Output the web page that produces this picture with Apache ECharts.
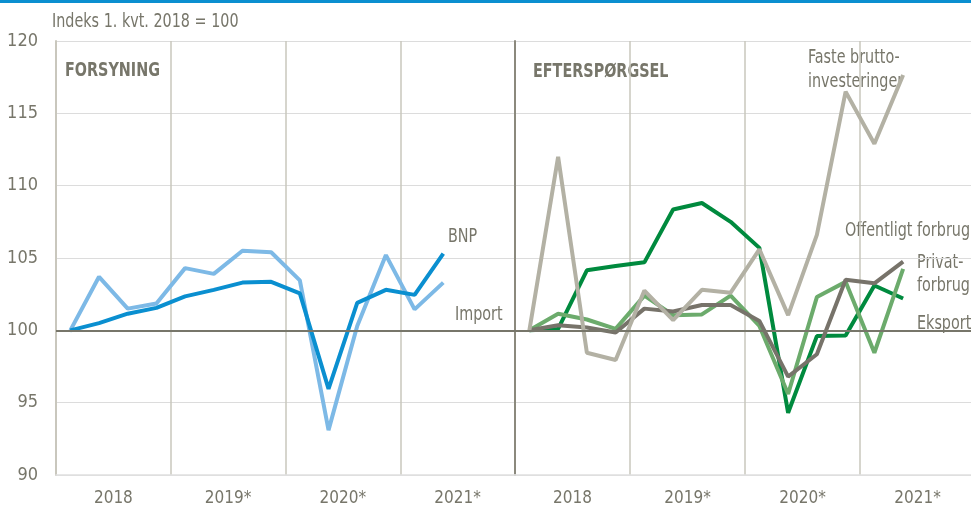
<!DOCTYPE html>
<html>
<head>
<meta charset="utf-8">
<title>Forsyning og efterspørgsel</title>
<script src="https://cdn.jsdelivr.net/npm/echarts@6/dist/echarts.min.js"></script>
<style>
  html, body { margin: 0; padding: 0; background: #fff; }
  #chart { width: 971px; height: 507px; }
</style>
</head>
<body>
<div id="chart"></div>
<script>
// kvartaler 2018K1 - 2021K4 (data til og med 2021K2)
const quarters = ['2018K1', '2018K2', '2018K3', '2018K4', '2019K1', '2019K2', '2019K3', '2019K4',
  '2020K1', '2020K2', '2020K3', '2020K4', '2021K1', '2021K2', '2021K3', '2021K4']
const years = ['2018', '2019*', '2020*', '2021*']
const yTicks = [90, 95, 100, 105, 110, 115, 120]

// Forsyning
const bnp = [100, 100.5, 101.15, 101.55, 102.35, 102.8, 103.3, 103.35, 102.55, 95.95, 101.9, 102.8, 102.45, 105.3]
const importSeries = [100, 103.7, 101.5, 101.85, 104.3, 103.9, 105.5, 105.4, 103.45, 93.1, 100.3, 105.2, 101.45, 103.3]

// Efterspørgsel
const fasteInv = [100, 112.0, 98.45, 97.95, 102.75, 100.7, 102.8, 102.6, 105.6, 101.05, 106.6, 116.5, 112.9, 117.65]
const eksport = [100, 100.1, 104.15, 104.45, 104.7, 108.35, 108.8, 107.5, 105.7, 94.3, 99.6, 99.65, 103.1, 102.2]
const privatForbrug = [100, 101.15, 100.75, 100.1, 102.4, 101.05, 101.1, 102.4, 100.3, 95.6, 102.3, 103.35, 98.45, 104.25]
const offForbrug = [100, 100.35, 100.2, 99.85, 101.5, 101.3, 101.75, 101.75, 100.65, 96.8, 98.35, 103.5, 103.25, 104.75]

const FONT = '"Liberation Sans Narrow", "DejaVu Sans Condensed", sans-serif'
const TXT = '#77766a'

function line(name, data, color, x, y) {
  return {
    name: name,
    type: 'line',
    xAxisIndex: x,
    yAxisIndex: y,
    data: data,
    symbol: 'none',
    silent: true,
    lineStyle: { color: color, width: 4 },
  }
}

function baseline() {
  return {
    silent: true,
    symbol: 'none',
    label: { show: false },
    lineStyle: { color: '#77766a', width: 2, type: 'solid' },
    data: [{ yAxis: 100 }],
  }
}

function quarterAxis(grid) {
  return {
    type: 'category', gridIndex: grid, data: quarters, boundaryGap: true,
    position: 'top', show: false,
  }
}

function yearAxis(grid) {
  return {
    type: 'category', gridIndex: grid, data: years, boundaryGap: true,
    position: 'bottom',
    axisLine: { show: true, lineStyle: { color: '#e0e0e0', width: 1.5 } },
    axisTick: { show: false },
    axisLabel: { color: TXT, fontFamily: FONT, fontSize: 17, margin: 15 },
    splitLine: { show: true, lineStyle: { color: '#c9c7bd', width: 1.5 } },
  }
}

function valueAxis(grid, labels, lineColor) {
  return {
    type: 'value', gridIndex: grid,
    min: yTicks[0], max: yTicks[yTicks.length - 1], interval: 5,
    axisLine: { show: true, lineStyle: { color: lineColor, width: 2 } },
    axisTick: { show: false },
    axisLabel: { show: labels, color: TXT, fontFamily: FONT, fontSize: 18, margin: 18 },
    splitLine: { show: true, lineStyle: { color: '#dcdcdc', width: 1.2 } },
  }
}

// tekst i smal skrift: vandret skaleret
function txt(x, y, s, bold) {
  return {
    type: 'text', x: x, y: y, scaleX: 0.84,
    style: {
      text: s, fill: TXT, font: (bold ? 'bold ' : '') + '19px ' + FONT,
      verticalAlign: 'middle', lineHeight: 24,
    },
  }
}

const chart = echarts.init(document.getElementById('chart'))

const bnpS = line('BNP', bnp, '#0a8fd0', 0, 0)
const impS = line('Import', importSeries, '#7db9e6', 0, 0)
impS.markLine = baseline()
const ekS = line('Eksport', eksport, '#008a3e', 2, 1)
ekS.markLine = baseline()

chart.setOption({
  animation: false,
  grid: [
    { left: 56, top: 41, width: 459, height: 434, outerBoundsMode: 'none' },
    { left: 515, top: 41, width: 460, height: 434, outerBoundsMode: 'none' },
  ],
  xAxis: [quarterAxis(0), yearAxis(0), quarterAxis(1), yearAxis(1)],
  yAxis: [valueAxis(0, true, '#c9c7bd'), valueAxis(1, false, '#8b897d')],
  series: [
    impS,
    bnpS,
    ekS,
    line('Privatforbrug', privatForbrug, '#6cab6c', 2, 1),
    line('Offentligt forbrug', offForbrug, '#77736a', 2, 1),
    line('Faste bruttoinvesteringer', fasteInv, '#b3b1a4', 2, 1),
  ],
  graphic: [
    { type: 'rect', x: 0, y: 0, shape: { width: 971, height: 3 }, style: { fill: '#0a8fd0' } },
    txt(52, 22, 'Indeks 1. kvt. 2018 = 100'),
    txt(65, 71, 'FORSYNING', true),
    txt(533, 72, 'EFTERSPØRGSEL', true),
    txt(448, 237, 'BNP'),
    txt(455, 315, 'Import'),
    txt(808, 58, 'Faste brutto-'),
    txt(808, 82, 'investeringer'),
    txt(845, 231, 'Offentligt forbrug'),
    txt(917, 263, 'Privat-'),
    txt(917, 286, 'forbrug'),
    txt(917, 324, 'Eksport'),
  ],
})
</script>
</body>
</html>
